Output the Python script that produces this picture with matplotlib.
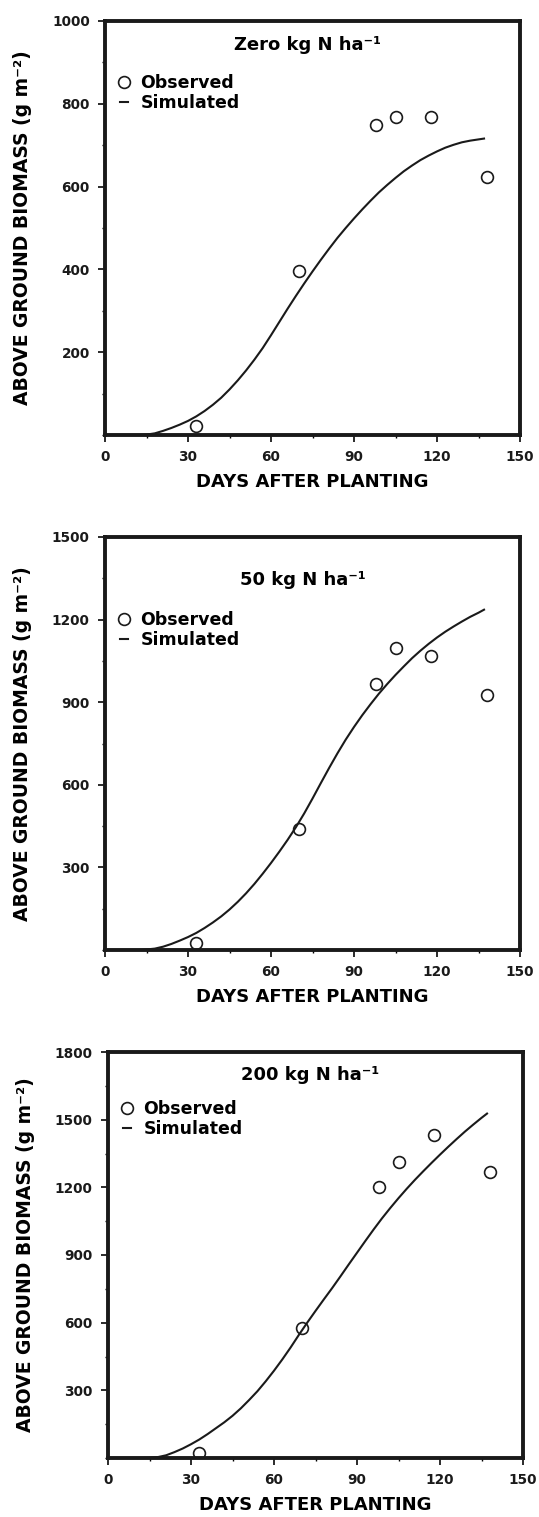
import numpy as np
from matplotlib import pyplot as plt
from matplotlib.ticker import MultipleLocator

# observed biomass (g m-2) at sampling days
obs_days = [33, 70, 98, 105, 118, 138]
obs_zero = [22, 396, 749, 768, 768, 624]
obs_50 = [26, 439, 965, 1097, 1068, 926]
obs_200 = [24, 575, 1203, 1312, 1434, 1266]

# simulated curves, every 3 days
sim_days = [0, 12, 15, 18, 21, 24, 27, 30, 33, 36, 39, 42, 45, 48, 51, 54, 57, 60, 63, 66, 69,
            72, 75, 78, 81, 84, 87, 90, 93, 96, 99, 102, 105, 108, 111, 114, 117, 120, 123,
            126, 129, 132, 135, 137]
sim_zero = [0, 0, 1, 4, 10, 17, 25, 34, 45, 58, 73, 90, 110, 132, 156, 182, 210, 241, 273, 305, 336,
            366, 395, 423, 450, 476, 500, 523, 545, 566, 586, 604, 621, 637, 651, 664, 675, 685, 694,
            701, 707, 711, 714, 716]
sim_50 = [0, 0, 2, 5, 12, 22, 34, 47, 62, 80, 100, 122, 147, 175, 206, 240, 277, 316, 357, 400, 446,
          496, 550, 606, 661, 714, 764, 810, 853, 893, 931, 966, 999, 1030, 1060, 1087, 1112, 1135, 1156,
          1175, 1193, 1210, 1225, 1236]
sim_200 = [0, 0, 1, 4, 12, 26, 42, 61, 82, 106, 132, 158, 187, 220, 257, 296, 340, 387, 437, 490, 546,
           600, 652, 703, 753, 805, 858, 910, 962, 1013, 1062, 1108, 1152, 1194, 1234, 1272, 1309, 1345, 1380,
           1414, 1447, 1478, 1508, 1527]

titles = ['Zero kg N ha⁻¹', '50 kg N ha⁻¹', '200 kg N ha⁻¹']
ymaxes = [1000, 1500, 1800]
ysteps = [200, 300, 300]
xticks = [0, 30, 60, 90, 120, 150]

W, H = 539, 1517
fig = plt.figure(figsize=(W/100, H/100), dpi=100)

# axes boxes in pixels: left, top, right, bottom
boxes = [(105, 21, 520, 435), (105, 537, 520, 950), (108, 1052, 523, 1458)]
title_pos = [(0.489, 0.942), (0.477, 0.896), (0.486, 0.943)]
legend_pos = [0.872, 0.821, 0.882]

sims = [sim_zero, sim_50, sim_200]
obs = [obs_zero, obs_50, obs_200]

for i in range(3):
    l, t, r, b = boxes[i]
    ax = fig.add_axes([l/W, 1 - b/H, (r - l)/W, (b - t)/H])
    ax.plot(sim_days, sims[i], color='#1a1a1a', lw=1.5, label='Simulated')
    ax.plot(obs_days, obs[i], 'o', mfc='none', mec='#1a1a1a', mew=1.2, ms=8.5,
            label='Observed', linestyle='none')
    ax.set_xlim(0, 150)
    ax.set_ylim(0, ymaxes[i])
    ax.set_xticks(xticks)
    ax.set_yticks(np.arange(ysteps[i], ymaxes[i] + 1, ysteps[i]))
    ax.xaxis.set_minor_locator(MultipleLocator(15))
    ax.yaxis.set_minor_locator(MultipleLocator(ysteps[i] / 2))
    for s in ax.spines.values():
        s.set_linewidth(2.8)
        s.set_color('#1a1a1a')
    ax.tick_params(which='major', direction='out', length=5, width=1.3, pad=6,
                   labelsize=9.8, colors='#1a1a1a')
    ax.tick_params(which='minor', direction='out', length=2, width=1)
    for lab in ax.get_xticklabels() + ax.get_yticklabels():
        lab.set_fontweight('bold')
    ax.set_xlabel('DAYS AFTER PLANTING', fontsize=13, fontweight='bold', labelpad=6)
    ax.set_ylabel('ABOVE GROUND BIOMASS (g m⁻²)', fontsize=13.5, fontweight='bold')
    ax.yaxis.set_label_coords(-0.175, 0.5)
    ax.text(title_pos[i][0], title_pos[i][1], titles[i], transform=ax.transAxes,
            ha='center', va='center', fontsize=13, fontweight='bold')
    h, lbl = ax.get_legend_handles_labels()
    ax.legend(h[::-1], lbl[::-1], loc='upper left', bbox_to_anchor=(0.035, legend_pos[i]),
              frameon=False, handlelength=0.5, handletextpad=0.7, labelspacing=0.1,
              borderpad=0, borderaxespad=0, prop={'size': 12.5, 'weight': 'bold'})

fig.savefig('out.png', dpi=100)
